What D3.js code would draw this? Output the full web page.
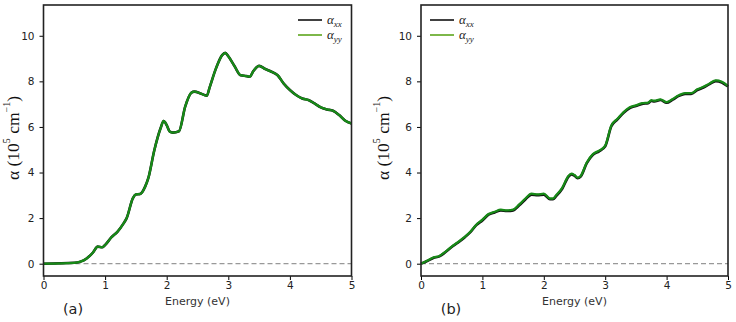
<!DOCTYPE html>
<html>
<head>
<meta charset="utf-8">
<script src="https://cdn.jsdelivr.net/npm/d3@7"></script>
<style>
  body { margin: 0; background: #fff; }
  svg { display: block; }
  .tick text { font-family: 'DejaVu Sans', sans-serif; font-size: 10.5px; fill: #222; }
</style>
</head>
<body>
<svg id="chart" width="736" height="322"></svg>
<script>
const energyA = [0, 0.5, 0.6, 0.7, 0.8, 0.88, 0.95, 1.0, 1.1, 1.2, 1.3, 1.35, 1.45, 1.5, 1.57, 1.65, 1.7, 1.8, 1.9, 1.95, 2.0, 2.05, 2.1, 2.2, 2.3, 2.4, 2.45, 2.55, 2.65, 2.7, 2.8, 2.9, 2.95, 3.0, 3.1, 3.2, 3.3, 3.35, 3.4, 3.5, 3.6, 3.7, 3.8, 3.9, 4.0, 4.1, 4.2, 4.3, 4.4, 4.5, 4.6, 4.7, 4.8, 4.9, 5.0];
const alphaYYa = [0, 0.04, 0.09, 0.23, 0.48, 0.75, 0.72, 0.82, 1.15, 1.40, 1.77, 2.0, 2.87, 3.04, 3.06, 3.38, 3.74, 4.99, 5.94, 6.26, 6.08, 5.79, 5.75, 5.81, 6.89, 7.5, 7.55, 7.47, 7.37, 7.76, 8.57, 9.15, 9.25, 9.1, 8.67, 8.27, 8.23, 8.2, 8.42, 8.68, 8.54, 8.42, 8.27, 7.9, 7.62, 7.4, 7.25, 7.18, 7.03, 6.86, 6.77, 6.71, 6.52, 6.27, 6.15];
const alphaXXa = [0, 0.04, 0.09, 0.23, 0.48, 0.75, 0.72, 0.82, 1.15, 1.40, 1.77, 2.0, 2.87, 3.04, 3.06, 3.38, 3.74, 4.99, 5.94, 6.26, 6.08, 5.79, 5.75, 5.81, 6.89, 7.5, 7.55, 7.47, 7.37, 7.76, 8.57, 9.15, 9.25, 9.1, 8.67, 8.27, 8.23, 8.2, 8.42, 8.68, 8.54, 8.42, 8.27, 7.9, 7.62, 7.4, 7.25, 7.18, 7.03, 6.86, 6.77, 6.71, 6.52, 6.27, 6.15];

const energyB = [0, 0.1, 0.2, 0.3, 0.4, 0.5, 0.6, 0.7, 0.8, 0.9, 1.0, 1.1, 1.2, 1.3, 1.4, 1.5, 1.6, 1.7, 1.8, 1.9, 2.0, 2.1, 2.15, 2.2, 2.3, 2.4, 2.45, 2.5, 2.55, 2.6, 2.7, 2.8, 2.9, 3.0, 3.1, 3.2, 3.3, 3.4, 3.5, 3.6, 3.7, 3.75, 3.8, 3.9, 4.0, 4.1, 4.2, 4.3, 4.4, 4.5, 4.6, 4.7, 4.8, 4.9, 5.0];
const alphaYYb = [0, 0.13, 0.27, 0.34, 0.53, 0.75, 0.94, 1.15, 1.39, 1.71, 1.93, 2.18, 2.28, 2.37, 2.34, 2.37, 2.6, 2.86, 3.07, 3.04, 3.07, 2.86, 2.86, 3.0, 3.33, 3.85, 3.95, 3.89, 3.78, 3.85, 4.44, 4.81, 4.96, 5.18, 6.06, 6.36, 6.65, 6.86, 6.95, 7.04, 7.07, 7.17, 7.15, 7.21, 7.09, 7.23, 7.39, 7.48, 7.48, 7.65, 7.76, 7.91, 8.04, 7.98, 7.79];
const alphaXXb = [0, 0.12, 0.25, 0.32, 0.51, 0.73, 0.92, 1.13, 1.37, 1.69, 1.90, 2.15, 2.25, 2.34, 2.31, 2.34, 2.56, 2.82, 3.03, 3.01, 3.03, 2.83, 2.83, 2.96, 3.29, 3.81, 3.92, 3.86, 3.75, 3.82, 4.41, 4.78, 4.93, 5.15, 6.03, 6.33, 6.62, 6.83, 6.92, 7.01, 7.04, 7.14, 7.12, 7.18, 7.06, 7.20, 7.36, 7.45, 7.45, 7.62, 7.73, 7.88, 8.01, 7.95, 7.77];

const xTicks = [0, 1, 2, 3, 4, 5];
const yTicks = [0, 2, 4, 6, 8, 10];

const svg = d3.select('#chart');
const xxColor = '#111';
const yyColor = '#178a17';
const legendYY = '#5ca51c';

const panels = [
  { left: 43.5, right: 351.5, energy: energyA, xx: alphaXXa, yy: alphaYYa, tag: '(a)', tagX: 73, labelX: 15, legendX: 298 },
  { left: 421, right: 728, energy: energyB, xx: alphaXXb, yy: alphaYYb, tag: '(b)', tagX: 451, labelX: 385, legendX: 430 },
];

const plotTop = 5, plotBottom = 276;

panels.forEach((p) => {
  const x = d3.scaleLinear().domain([0, 5]).range([p.left, p.right]);
  const y = d3.scaleLinear().domain([-0.54, 11.35]).range([plotBottom, plotTop]);
  const g = svg.append('g');

  // zero line
  g.append('line')
    .attr('x1', x(0)).attr('x2', x(5))
    .attr('y1', y(0)).attr('y2', y(0))
    .attr('stroke', '#999').attr('stroke-width', 1.3)
    .attr('stroke-dasharray', '5,3');

  const line = d3.line().curve(d3.curveMonotoneX);
  const ptsXX = p.energy.map((e, i) => [x(e), y(p.xx[i])]);
  const ptsYY = p.energy.map((e, i) => [x(e), y(p.yy[i])]);

  g.append('path').attr('d', line(ptsXX)).attr('fill', 'none')
    .attr('stroke', xxColor).attr('stroke-width', 2.6);
  g.append('path').attr('d', line(ptsYY)).attr('fill', 'none')
    .attr('stroke', yyColor).attr('stroke-width', 2.3);

  // axes
  g.append('g').attr('transform', `translate(0,${plotBottom})`)
    .call(d3.axisBottom(x).tickValues(xTicks).tickSize(4).tickPadding(2).tickFormat(d3.format('d')))
    .call((a) => a.select('.domain').remove());
  g.append('g').attr('transform', `translate(${p.left},0)`)
    .call(d3.axisLeft(y).tickValues(yTicks).tickSize(4).tickPadding(5).tickFormat(d3.format('d')))
    .call((a) => a.select('.domain').remove());

  // frame
  g.append('rect')
    .attr('x', p.left).attr('y', plotTop)
    .attr('width', p.right - p.left).attr('height', plotBottom - plotTop)
    .attr('fill', 'none').attr('stroke', '#222').attr('stroke-width', 1.6);

  // labels
  g.append('text')
    .attr('x', (p.left + p.right) / 2).attr('y', 305)
    .attr('text-anchor', 'middle')
    .attr('font-family', 'DejaVu Sans, sans-serif').attr('font-size', 11)
    .attr('fill', '#333')
    .text('Energy (eV)');

  g.append('text')
    .attr('x', p.tagX).attr('y', 314)
    .attr('text-anchor', 'middle')
    .attr('font-family', 'DejaVu Sans, sans-serif').attr('font-size', 14.5)
    .attr('fill', '#222')
    .text(p.tag);

  const yl = g.append('text')
    .attr('transform', `translate(${p.labelX},138) rotate(-90)`)
    .attr('text-anchor', 'middle')
    .attr('dominant-baseline', 'middle')
    .attr('font-family', 'Liberation Serif, serif').attr('font-size', 17.5)
    .attr('fill', '#111');
  yl.append('tspan').text('α (10');
  yl.append('tspan').attr('font-size', 10).attr('dy', -7).text('5');
  yl.append('tspan').attr('dy', 7).text(' cm');
  yl.append('tspan').attr('font-size', 10).attr('dy', -7).text('−1');
  yl.append('tspan').attr('dy', 7).text(')');

  // legend
  const entries = [['xx', xxColor, 20], ['yy', legendYY, 35]];
  entries.forEach(([sub, c, ly]) => {
    g.append('line')
      .attr('x1', p.legendX).attr('x2', p.legendX + 24)
      .attr('y1', ly).attr('y2', ly)
      .attr('stroke', c).attr('stroke-width', 1.6);
    const t = g.append('text')
      .attr('x', p.legendX + 29).attr('y', ly + 4)
      .attr('font-family', 'Liberation Serif, serif').attr('font-size', 13)
      .attr('fill', '#222');
    t.append('tspan').attr('font-style', 'italic').text('α');
    t.append('tspan').attr('font-style', 'italic').attr('font-size', 9).attr('dy', 3).text(sub);
  });
});
</script>
</body>
</html>
